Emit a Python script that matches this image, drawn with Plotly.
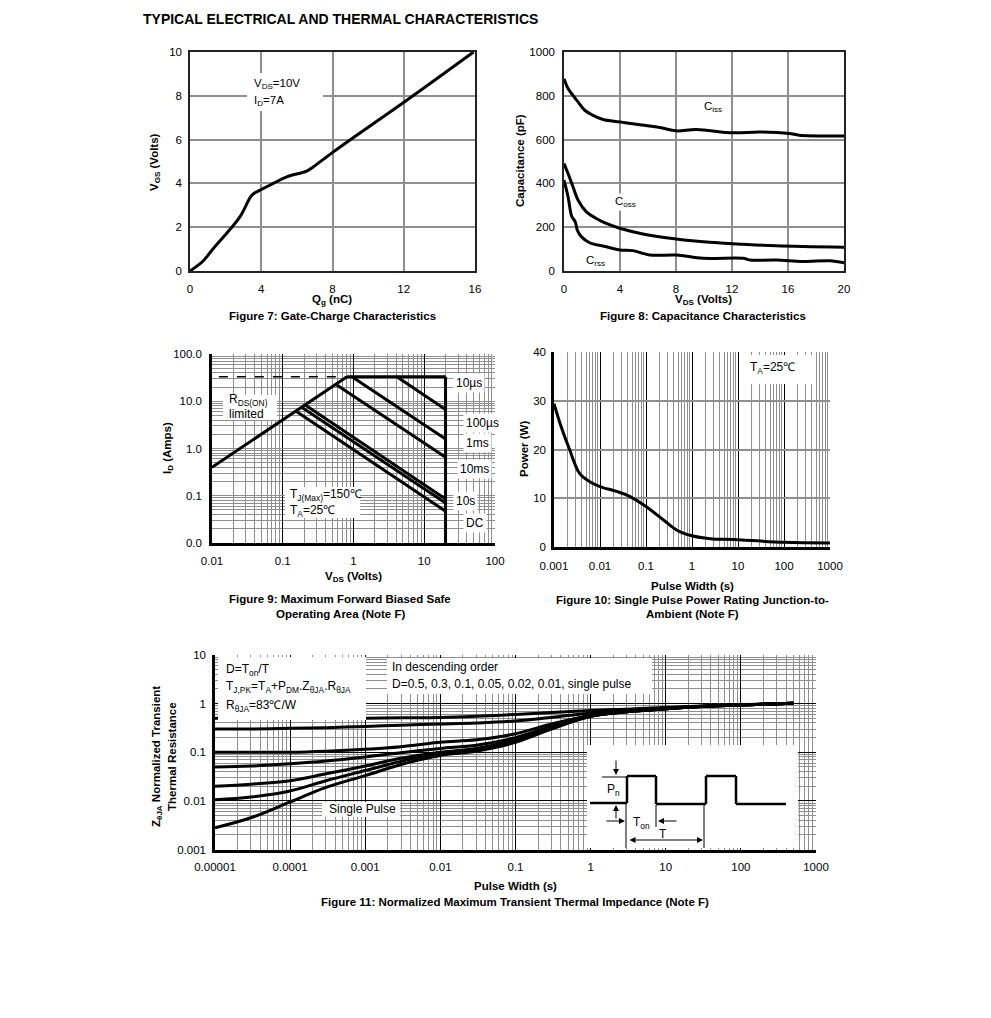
import plotly.graph_objects as go

W, H = 991, 1018
OX, OY = 8, 8  # page body offset of the html page
FONT = "Liberation Sans, Arial, sans-serif"


def PX(x):
    return (x - OX) / W


def PY(y):
    return 1 - (y - OY) / H


# ---------------- Data ----------------
# Figure 7: gate charge
qg_nc = [0, 0.75, 1.31, 2.06, 2.81, 3.4, 3.6, 3.93, 4.68, 5.43, 6.55, 6.93, 8.05, 9.36, 12.17, 15.92]
vgs_v = [0, 0.47, 1.03, 1.72, 2.48, 3.38, 3.55, 3.69, 4.0, 4.3, 4.56, 4.76, 5.44, 6.2, 7.8, 10.0]

# Figure 8: capacitance
ciss_vds = [0, 0.29, 0.64, 1.0, 1.48, 2.07, 2.79, 3.98, 5.17, 6.83, 8.02, 9.45, 12.07, 13.98, 16.1, 16.8, 20]
ciss_pf = [878, 833, 802, 772, 734, 711, 692, 681, 670, 655, 640, 646, 631, 635, 628, 620, 617]
coss_vds = [0, 0.29, 0.64, 1.0, 1.6, 2.31, 3.02, 3.98, 5.64, 8.02, 10.4, 12.79, 15.17, 20]
coss_pf = [491, 445, 385, 324, 270, 240, 217, 195, 169, 146, 131, 122, 115, 108]
crss_vds = [0, 0.29, 0.55, 0.8, 0.95, 1.24, 1.83, 3.02, 3.98, 4.93, 6.12, 8.02, 9.93, 12.79, 13.26, 15.17, 17.07, 18.98, 20]
crss_pf = [415, 339, 250, 225, 187, 157, 129, 111, 96, 93, 73, 73, 58, 58, 50, 50, 43, 47, 38]

# Figure 9: safe operating area (V, A)
rds_v, rds_i = [0.01, 0.81], [0.4, 33]
dash_v, dash_i = [0.0125, 0.81], [33, 33]
top_v, top_i = [0.81, 20], [33, 33]
vmax_v, vmax_i = [20, 20], [33, 0.01]
us10_v, us10_i = [4.1, 20], [33, 6.7]
us100_v, us100_i = [0.95, 20], [33, 1.58]
ms1_v, ms1_i = [0.58, 20], [22, 0.65]
ms10_v, ms10_i = [0.208, 20], [8.3, 0.085]
s10_v, s10_i = [0.187, 20], [7.4, 0.07]
dc_v, dc_i = [0.158, 20], [6.0, 0.047]

# Figure 10: single pulse power
pw_s = [0.001, 0.00145, 0.0022, 0.0036, 0.006, 0.01, 0.0228, 0.044, 0.1, 0.236, 0.46, 1, 2.46, 10, 100, 1000]
pw_w = [29.4, 24.5, 19.9, 15.1, 13.4, 12.4, 11.4, 10.4, 8.3, 5.6, 3.5, 2.3, 1.7, 1.5, 0.95, 0.8]

# Figure 11: normalized transient thermal impedance
zt_s = [1e-5, 3e-5, 1e-4, 3e-4, 1e-3, 3e-3, 1e-2, 3e-2, 0.1, 0.3, 1, 3, 10, 30, 100, 500]
z_d05 = [0.5, 0.5, 0.5, 0.5, 0.5, 0.51, 0.52, 0.55, 0.6, 0.66, 0.72, 0.77, 0.83, 0.89, 0.95, 1.02]
z_d03 = [0.3, 0.3, 0.31, 0.32, 0.34, 0.36, 0.38, 0.4, 0.44, 0.52, 0.64, 0.73, 0.81, 0.88, 0.94, 1.02]
z_d01 = [0.1, 0.1, 0.1, 0.105, 0.115, 0.13, 0.16, 0.18, 0.24, 0.38, 0.57, 0.69, 0.79, 0.87, 0.94, 1.02]
z_d005 = [0.05, 0.052, 0.058, 0.066, 0.08, 0.098, 0.12, 0.14, 0.2, 0.34, 0.56, 0.68, 0.78, 0.87, 0.94, 1.02]
z_d002 = [0.02, 0.022, 0.026, 0.036, 0.052, 0.075, 0.1, 0.12, 0.18, 0.32, 0.55, 0.68, 0.78, 0.87, 0.94, 1.02]
z_d001 = [0.0105, 0.012, 0.016, 0.026, 0.042, 0.065, 0.095, 0.11, 0.17, 0.31, 0.55, 0.68, 0.78, 0.87, 0.94, 1.02]
z_single = [0.0028, 0.0045, 0.0095, 0.019, 0.033, 0.056, 0.086, 0.105, 0.16, 0.3, 0.55, 0.68, 0.78, 0.87, 0.94, 1.02]

# tick labels
f7_xticks = [0, 4, 8, 12, 16]
f7_yticks = [0, 2, 4, 6, 8, 10]
f8_xticks = [0, 4, 8, 12, 16, 20]
f8_yticks = [0, 200, 400, 600, 800, 1000]
f9_xticks = [0.01, 0.1, 1, 10, 100]
f9_xtext = ["0.01", "0.1", "1", "10", "100"]
f9_yticks = [0.01, 0.1, 1, 10, 100]
f9_ytext = ["0.0", "0.1", "1.0", "10.0", "100.0"]
f10_xticks = [0.001, 0.01, 0.1, 1, 10, 100, 1000]
f10_xtext = ["0.001", "0.01", "0.1", "1", "10", "100", "1000"]
f10_yticks = [0, 10, 20, 30, 40]
f11_xticks = [1e-5, 1e-4, 1e-3, 1e-2, 0.1, 1, 10, 100, 1000]
f11_xtext = ["0.00001", "0.0001", "0.001", "0.01", "0.1", "1", "10", "100", "1000"]
f11_yticks = [0.001, 0.01, 0.1, 1, 10]
f11_ytext = ["0.001", "0.01", "0.1", "1", "10"]


def minor_vals(e0, e1):
    return [k * 10.0 ** e for e in range(e0, e1) for k in range(2, 10)]


# ---------------- Figure ----------------
fig = go.Figure()
LW = 3
BLK = "black"


def add_line(x, y, n, width=LW, dash=None, shape="linear"):
    fig.add_trace(go.Scatter(x=x, y=y, mode="lines", xaxis=f"x{n}", yaxis=f"y{n}",
                             line=dict(color=BLK, width=width, dash=dash, shape=shape),
                             showlegend=False, hoverinfo="skip"))


add_line(qg_nc, vgs_v, 1, shape="spline")
add_line(ciss_vds, ciss_pf, 2, shape="spline")
add_line(coss_vds, coss_pf, 2, shape="spline")
add_line(crss_vds, crss_pf, 2, shape="spline")

add_line(dash_v, dash_i, 3, width=1.5, dash="dash")
for xv, yv in [(rds_v, rds_i), (top_v, top_i), (vmax_v, vmax_i), (us10_v, us10_i),
               (us100_v, us100_i), (ms1_v, ms1_i), (ms10_v, ms10_i), (s10_v, s10_i), (dc_v, dc_i)]:
    add_line(xv, yv, 3)

add_line(pw_s, pw_w, 4, shape="spline")

for zz in [z_d05, z_d03, z_d01, z_d005, z_d002, z_d001, z_single]:
    add_line(zt_s, zz, 5, shape="spline")

TF = dict(family=FONT, size=11.5, color="black")
GRID = "#8f8f8f"


def lin_axes(xd, yd, n, xr, yr, xt, yt, ysoff):
    xa = dict(domain=[PX(xd[0]), PX(xd[1])], range=xr, tickvals=xt, anchor=f"y{n}",
              showgrid=True, gridcolor=GRID, gridwidth=1.5, showline=True, mirror=True,
              linecolor="#222", linewidth=1.5, ticks="", tickfont=TF, zeroline=False,
              ticklabelstandoff=6, fixedrange=True, automargin=False)
    ya = dict(domain=[PY(yd[1]), PY(yd[0])], range=yr, tickvals=yt, anchor=f"x{n}",
              showgrid=True, gridcolor=GRID, gridwidth=1.5, showline=True, mirror=True,
              linecolor="#222", linewidth=1.5, ticks="", tickfont=TF, zeroline=False,
              ticklabelstandoff=ysoff, fixedrange=True, automargin=False)
    return xa, ya


def log_x(xd, n, e0, e1, tv, tt, soff):
    return dict(domain=[PX(xd[0]), PX(xd[1])], type="log", range=[e0, e1], tickvals=tv,
                ticktext=tt, anchor=f"y{n}", showgrid=True, gridcolor="black", gridwidth=1,
                minor=dict(tickvals=minor_vals(e0, e1), showgrid=True, gridcolor=GRID, gridwidth=1, ticks=""),
                showline=True, linecolor="black", linewidth=2.5, ticks="", tickfont=TF,
                zeroline=False, ticklabelstandoff=soff, fixedrange=True, automargin=False)


xa1, ya1 = lin_axes((190, 475), (52, 271), 1, [0, 16], [0, 10], f7_xticks, f7_yticks, 4)
xa2, ya2 = lin_axes((564, 844), (52, 271), 2, [0, 20], [0, 1000], f8_xticks, f8_yticks, 5)

xa3 = log_x((212, 495), 3, -2, 2, f9_xticks, f9_xtext, 5)
ya3 = dict(domain=[PY(543), PY(354)], type="log", range=[-2, 2], tickvals=f9_yticks, ticktext=f9_ytext,
           anchor="x3", showgrid=True, gridcolor=GRID, gridwidth=1,
           minor=dict(tickvals=minor_vals(-2, 2), showgrid=True, gridcolor=GRID, gridwidth=1, ticks=""),
           showline=True, linecolor="black", linewidth=2.5, ticks="", tickfont=TF,
           zeroline=False, ticklabelstandoff=5, fixedrange=True, automargin=False)

xa4 = log_x((554, 830), 4, -3, 3, f10_xticks, f10_xtext, 6)
ya4 = dict(domain=[PY(547), PY(352)], range=[0, 40], tickvals=f10_yticks, anchor="x4",
           showgrid=True, gridcolor=GRID, gridwidth=1.5, showline=True, linecolor="black",
           linewidth=2.5, ticks="", tickfont=TF, zeroline=False, ticklabelstandoff=3,
           fixedrange=True, automargin=False)

xa5 = log_x((215, 816), 5, -5, 3, f11_xticks, f11_xtext, 5)
ya5 = dict(domain=[PY(849.5), PY(655)], type="log", range=[-3, 1], tickvals=f11_yticks, ticktext=f11_ytext,
           anchor="x5", showgrid=True, gridcolor="black", gridwidth=1,
           minor=dict(tickvals=minor_vals(-3, 1), showgrid=True, gridcolor=GRID, gridwidth=1, ticks=""),
           showline=True, linecolor="black", linewidth=2.5, ticks="", tickfont=TF,
           zeroline=False, ticklabelstandoff=4, fixedrange=True, automargin=False)

annotations = []


def txt(x, y, s, size=12, bold=False, xanchor="center", bg=None, angle=0, pad=1):
    if bold:
        s = f"<b>{s}</b>"
    a = dict(x=PX(x), y=PY(y), xref="paper", yref="paper", text=s, showarrow=False,
             font=dict(family=FONT, size=size, color="black"), xanchor=xanchor, yanchor="middle",
             textangle=angle, borderpad=pad)
    if bg:
        a["bgcolor"] = bg
    annotations.append(a)


CAP = 11.5

# title
txt(141, 19, "TYPICAL ELECTRICAL AND THERMAL CHARACTERISTICS", size=14, bold=True, xanchor="left")

# fig 7
txt(332, 300, "Q<sub>g</sub> (nC)", size=CAP, bold=True)
txt(332, 316, "Figure 7: Gate-Charge Characteristics", size=CAP, bold=True)
txt(155, 162, "V<sub>GS</sub> (Volts)", size=CAP, bold=True, angle=-90)
txt(252, 84, "V<sub>DS</sub>=10V", size=11.5, xanchor="left")
txt(252, 101, "I<sub>D</sub>=7A", size=11.5, xanchor="left")

# fig 8
txt(703, 300, "V<sub>DS</sub> (Volts)", size=CAP, bold=True)
txt(703, 316, "Figure 8: Capacitance Characteristics", size=CAP, bold=True)
txt(520, 161, "Capacitance (pF)", size=CAP, bold=True, angle=-90)
txt(702, 107, "C<sub>iss</sub>", size=11.5, xanchor="left")
txt(613, 202, "C<sub>oss</sub>", size=11.5, xanchor="left", bg="white")
txt(584, 261, "C<sub>rss</sub>", size=11.5, xanchor="left", bg="white")

# fig 9
txt(353, 577, "V<sub>DS</sub> (Volts)", size=CAP, bold=True)
txt(340, 599, "Figure 9: Maximum Forward Biased Safe", size=CAP, bold=True)
txt(340, 614, "Operating Area (Note F)", size=CAP, bold=True)
txt(168, 448, "I<sub>D</sub> (Amps)", size=CAP, bold=True, angle=-90)
txt(227, 400, "R<sub>DS(ON)</sub>", xanchor="left")
txt(227, 414, "limited", xanchor="left")
txt(288, 495, "T<sub>J(Max)</sub>=150℃", xanchor="left")
txt(288, 511, "T<sub>A</sub>=25℃", xanchor="left")
txt(453, 383, "10µs", xanchor="left", bg="white", pad=2)
txt(463, 423, "100µs", xanchor="left", bg="white", pad=2)
txt(463, 443, "1ms", xanchor="left", bg="white", pad=2)
txt(457, 469, "10ms", xanchor="left", bg="white", pad=2)
txt(453, 501, "10s", xanchor="left", bg="white", pad=2)
txt(463, 523, "DC", xanchor="left", bg="white", pad=2)

# fig 10
txt(692, 586, "Pulse Width (s)", size=CAP, bold=True)
txt(692, 600, "Figure 10: Single Pulse Power Rating Junction-to-", size=CAP, bold=True)
txt(692, 614, "Ambient (Note F)", size=CAP, bold=True)
txt(524, 449, "Power (W)", size=CAP, bold=True, angle=-90)
txt(748, 368, "T<sub>A</sub>=25℃", xanchor="left")

# fig 11
txt(515, 886, "Pulse Width (s)", size=CAP, bold=True)
txt(515, 902, "Figure 11: Normalized Maximum Transient Thermal Impedance (Note F)", size=CAP, bold=True)
txt(157, 757, "Z<sub>θJA</sub> Normalized Transient", size=CAP, bold=True, angle=-90)
txt(172, 757, "Thermal Resistance", size=CAP, bold=True, angle=-90)
txt(224, 670, "D=T<sub>on</sub>/T", xanchor="left")
txt(224, 687, "T<sub>J,PK</sub>=T<sub>A</sub>+P<sub>DM</sub>.Z<sub>θJA</sub>.R<sub>θJA</sub>", xanchor="left")
txt(224, 706, "R<sub>θJA</sub>=83℃/W", xanchor="left")
txt(390, 667, "In descending order", xanchor="left")
txt(390, 684, "D=0.5, 0.3, 0.1, 0.05, 0.02, 0.01, single pulse", xanchor="left")
txt(327, 809, "Single Pulse", xanchor="left")
txt(613, 790, "P<sub>n</sub>")
txt(641, 823, "T<sub>on</sub>")
txt(663, 834, "T")


def arrow(hx, hy, ax, ay, side="end"):
    annotations.append(dict(x=PX(hx), y=PY(hy), xref="paper", yref="paper", text="",
                            showarrow=True, ax=ax, ay=ay, arrowhead=2, arrowsize=1.2,
                            arrowwidth=1, arrowcolor="black", arrowside=side))


arrow(616, 775, 0, -16)
arrow(616, 805, 0, 15)
arrow(625, 821, -20, 0)
arrow(658, 821, 20, 0)
arrow(703, 840, -75, 0, side="end+start")

shapes = []


def rect(x0, y0, x1, y1):
    shapes.append(dict(type="rect", xref="paper", yref="paper", x0=PX(x0), x1=PX(x1),
                       y0=PY(y1), y1=PY(y0), fillcolor="white", line=dict(width=0), layer="above"))


def seg(x0, y0, x1, y1, w=1):
    shapes.append(dict(type="line", xref="paper", yref="paper", x0=PX(x0), x1=PX(x1),
                       y0=PY(y0), y1=PY(y1), line=dict(color="black", width=w), layer="above"))


rect(247, 73, 323, 111)
rect(223, 395, 277, 420)
rect(285, 487, 360, 518)
rect(740, 355, 812, 384)
rect(218, 657, 366, 720)
rect(387, 658, 652, 694)
rect(322, 802, 400, 817)
rect(587, 745, 798, 848)

# pulse waveform diagram
pulse_pts = [(590, 803), (627, 803), (627, 776), (656, 776), (656, 804), (706, 804),
             (706, 776), (736, 776), (736, 804), (786, 804)]
for (a0, b0), (a1, b1) in zip(pulse_pts[:-1], pulse_pts[1:]):
    seg(a0, b0, a1, b1, w=2.5)
seg(602, 777, 627, 777)
seg(626, 803, 626, 848)
seg(656, 805, 656, 827)
seg(704, 805, 704, 848)

fig.update_layout(
    width=W, height=H, autosize=False,
    margin=dict(l=0, r=0, t=0, b=0, pad=0, autoexpand=False),
    paper_bgcolor="white", plot_bgcolor="rgba(0,0,0,0)",
    font=dict(family=FONT, size=11, color="black"),
    showlegend=False,
    xaxis=xa1, yaxis=ya1, xaxis2=xa2, yaxis2=ya2, xaxis3=xa3, yaxis3=ya3,
    xaxis4=xa4, yaxis4=ya4, xaxis5=xa5, yaxis5=ya5,
    annotations=annotations, shapes=shapes,
)

fig.write_html("out.html", config={"responsive": False})
